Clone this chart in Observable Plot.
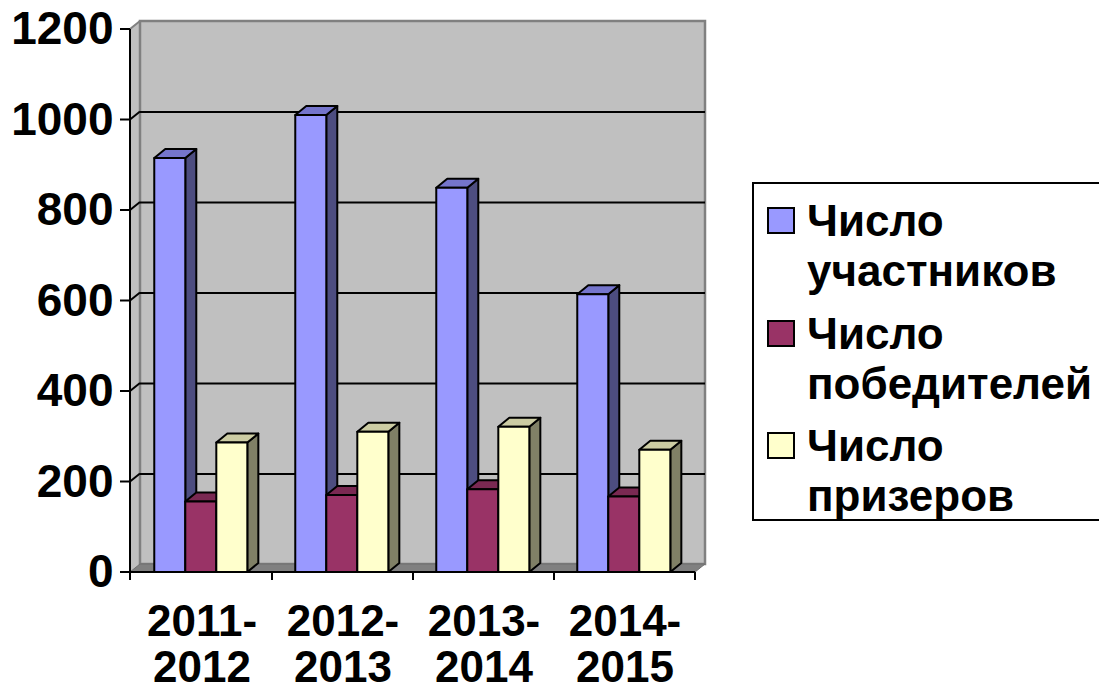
<!DOCTYPE html>
<html><head><meta charset="utf-8">
<script src="https://cdn.jsdelivr.net/npm/d3@7"></script>
<script src="https://cdn.jsdelivr.net/npm/@observablehq/plot@0.6"></script>
<style>
html,body{margin:0;padding:0;background:#fff;overflow:hidden;}
#wrap{position:relative;width:1099px;height:692px;overflow:hidden;}
#legend{position:absolute;left:752px;top:182px;width:400px;height:339px;border:2px solid #000;box-sizing:border-box;background:#fff;
  font-family:"Liberation Sans",Arial,sans-serif;font-weight:bold;font-size:44px;color:#000;}
.sw{position:absolute;left:13px;width:28px;height:27px;box-sizing:border-box;border:2px solid #000;}
.lbl{position:absolute;left:53px;line-height:50px;height:50px;white-space:nowrap;}
</style></head><body><div id="wrap"></div>
<script>
// ---- data ----
const years = ["2011-2012", "2012-2013", "2013-2014", "2014-2015"];
const yearLabels = ["2011-\n2012", "2012-\n2013", "2013-\n2014", "2014-\n2015"];
const seriesNames = ["Число участников", "Число победителей", "Число призеров"];
const legendLines = [["Число", "участников"], ["Число", "победителей"], ["Число", "призеров"]];
const participants = [915, 1010, 849, 614];
const winners = [156, 170, 183, 167];
const prizewinners = [286, 310, 321, 270];
const yTicks = [0, 200, 400, 600, 800, 1000, 1200];

// ---- styling ----
const faceColors = [
  {front: "#9999FF", top: "#7575CC", side: "#4D4D80"},
  {front: "#993366", top: "#7A2952", side: "#4D1A33"},
  {front: "#FFFFCC", top: "#CCCCA3", side: "#808066"}
];
const WDX = 10, WDY = 8;   // wall depth (px)
const BDX = 11, BDY = 9;   // bar depth (px)

const seriesValues = [participants, winners, prizewinners];
const rows = years.flatMap((yr, i) => seriesValues.map((vals, s) => ({year: yr, series: s, value: vals[i]})));

function poly(g, pts, fill, stroke, sw) {
  g.append("path")
    .attr("d", "M" + pts.map(p => p.join(",")).join("L") + "Z")
    .attr("fill", fill)
    .attr("stroke", stroke || "none")
    .attr("stroke-width", sw || 0)
    .attr("stroke-linejoin", "round");
}

const wallMark = (index, scales, values, dims) => {
  const {y} = scales;
  const x0 = dims.marginLeft, x1 = dims.width - dims.marginRight;
  const y0 = y(0), yT = y(yTicks[yTicks.length - 1]);
  const g = d3.create("svg:g");
  poly(g, [[x0, yT], [x0 + WDX, yT - WDY], [x0 + WDX, y0 - WDY], [x0, y0]], "#c0c0c0", "#c0c0c0", 1);
  g.append("rect").attr("x", x0 + WDX).attr("y", yT - WDY).attr("width", x1 - x0).attr("height", y0 - yT)
    .attr("fill", "#c0c0c0").attr("stroke", "#808080").attr("stroke-width", 2.5);
  poly(g, [[x0, y0], [x1, y0], [x1 + WDX, y0 - WDY], [x0 + WDX, y0 - WDY]], "#808080", "#6e6e6e", 1);
  for (const v of yTicks.slice(1, -1)) {
    g.append("line").attr("x1", x0).attr("y1", y(v)).attr("x2", x0 + WDX).attr("y2", y(v) - WDY)
      .attr("stroke", "#000").attr("stroke-width", 2);
  }
  g.append("line").attr("x1", x0).attr("y1", yT).attr("x2", x0 + WDX).attr("y2", yT - WDY)
    .attr("stroke", "#808080").attr("stroke-width", 2);
  return g.node();
};

const barsMark = (index, scales) => {
  const {x, y} = scales;
  const bw = x(years[1]) - x(years[0]);
  const w = bw * 0.22, off = bw * 0.165;
  const g = d3.create("svg:g");
  for (const d of rows) {
    const xl = x(d.year) + off + d.series * w, xr = xl + w;
    const yb = y(0), yt = y(d.value);
    const c = faceColors[d.series];
    poly(g, [[xr, yt], [xr + BDX, yt - BDY], [xr + BDX, yb - BDY], [xr, yb]], c.side, "#000", 2);
    poly(g, [[xl, yt], [xl + BDX, yt - BDY], [xr + BDX, yt - BDY], [xr, yt]], c.top, "#000", 2);
    poly(g, [[xl, yt], [xr, yt], [xr, yb], [xl, yb]], c.front, "#000", 2);
  }
  return g.node();
};

const axisMark = (index, scales, values, dims) => {
  const {x, y} = scales;
  const x0 = dims.marginLeft, x1 = dims.width - dims.marginRight;
  const y0 = y(0), yT = y(yTicks[yTicks.length - 1]);
  const g = d3.create("svg:g").attr("stroke", "#000").attr("stroke-width", 2);
  g.append("line").attr("x1", x0).attr("x2", x0).attr("y1", yT).attr("y2", y0 + 8);
  g.append("line").attr("x1", x0).attr("x2", x1).attr("y1", y0).attr("y2", y0);
  for (const v of yTicks) g.append("line").attr("x1", x0 - 10).attr("x2", x0).attr("y1", y(v)).attr("y2", y(v));
  const bw = x(years[1]) - x(years[0]);
  for (const yr of years) g.append("line").attr("x1", x(yr) + bw).attr("x2", x(yr) + bw).attr("y1", y0).attr("y2", y0 + 8);
  return g.node();
};

const chart = Plot.plot({
  width: 1099,
  height: 692,
  marginLeft: 130,
  marginRight: 404,
  marginTop: 29,
  marginBottom: 120,
  style: {fontFamily: "'Liberation Sans', Arial, sans-serif", background: "white", color: "#000"},
  x: {type: "band", domain: years, padding: 0, axis: null},
  y: {domain: [0, 1200], axis: null},
  marks: [
    wallMark,
    Plot.ruleY(yTicks.slice(1, -1), {y: d => d, dx: WDX, dy: -WDY, stroke: "#000", strokeWidth: 2}),
    barsMark,
    axisMark,
    Plot.text(yTicks, {y: d => d, text: d => String(d), frameAnchor: "left", textAnchor: "end", dx: -17,
      fontSize: 46, fontWeight: "bold", fill: "#000"}),
    Plot.text(years, {x: d => d, text: (d, i) => yearLabels[i], frameAnchor: "bottom", lineAnchor: "top",
      dy: 31, lineHeight: 1.045, fontSize: 44, fontWeight: "bold", fill: "#000"})
  ]
});
const wrap = document.getElementById("wrap");
wrap.appendChild(chart);

// legend
const legend = document.createElement("div");
legend.id = "legend";
const baselines = [[236, 286], [349, 399], [461, 511]];
seriesNames.forEach((name, s) => {
  const [b1, b2] = baselines[s];
  const sw = document.createElement("div");
  sw.className = "sw";
  sw.style.background = faceColors[s].front;
  sw.style.top = (b1 - 29 - 184) + "px";
  legend.appendChild(sw);
  legendLines[s].forEach((line, j) => {
    const t = document.createElement("div");
    t.className = "lbl";
    t.textContent = line;
    t.style.top = ((j === 0 ? b1 : b2) - 40 - 184) + "px";
    legend.appendChild(t);
  });
});
wrap.appendChild(legend);
</script></body></html>
